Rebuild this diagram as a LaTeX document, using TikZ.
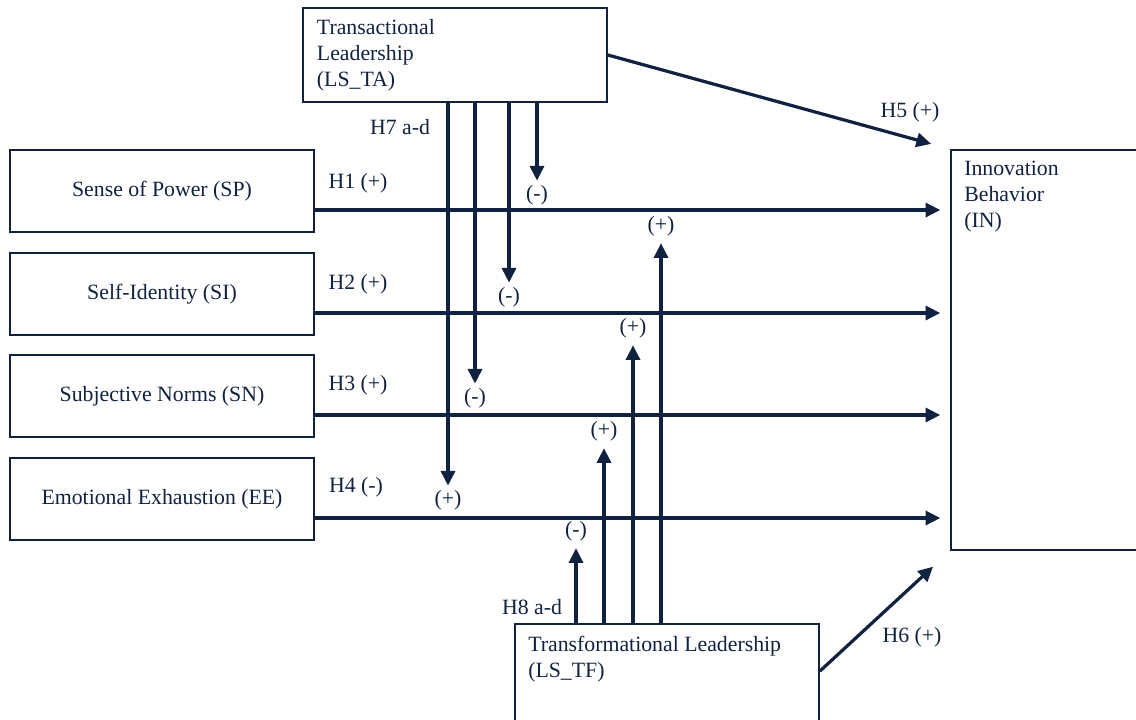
\documentclass[tikz,border=0pt]{standalone}
\usepackage{fontspec}
\setmainfont{Liberation Serif}
\usetikzlibrary{arrows.meta,positioning,calc}
\definecolor{navy}{HTML}{10223F}

\begin{document}
\begin{tikzpicture}[
  x=0.025cm,y=-0.025cm,
  font=\fontsize{15.5pt}{18.5pt}\selectfont,text=navy,
  box/.style={draw=navy,line width=1.2pt,align=center,
              minimum width=7.6cm,minimum height=2.05cm,inner sep=0pt},
  bigbox/.style={draw=navy,line width=1.2pt,inner sep=0pt},
  txt/.style={align=left,inner sep=0pt,anchor=north west},
  sign/.style={inner sep=1pt},
  arr/.style={-{Triangle[length=10.5pt,width=10pt]},line width=2.3pt,draw=navy}
]
\clip (0,0) rectangle (1136,719);

% Leadership styles
\node[bigbox,minimum width=7.6cm,minimum height=2.35cm,text width=6.9cm,align=left] (ta) at (455,55)
  {Transactional\\Leadership\\(LS\_TA)};
\node[bigbox,minimum width=7.6cm,minimum height=3cm] (tf) at (667,684) {};
\node[txt] (tftext) at (528,636) {Transformational Leadership\\(LS\_TF)};

% Predictors
\node[box] (sp) at (162,191) {Sense of Power (SP)};
\node[box] (si) at (162,294) {Self-Identity (SI)};
\node[box] (sn) at (162,396) {Subjective Norms (SN)};
\node[box] (ee) at (162,499) {Emotional Exhaustion (EE)};

% Outcome
\node[bigbox,minimum width=4.75cm,minimum height=10cm] (innov) at (1046,350) {};
\node[txt] (innovtext) at (964,161) {Innovation\\Behavior\\(IN)};

% Hypotheses
\node (h1) at (358,183) {H1 (+)};
\node (h2) at (358,284) {H2 (+)};
\node (h3) at (358,385) {H3 (+)};
\node (h4) at (356,487) {H4 (-)};
\node (h5) at (910,112) {H5 (+)};
\node (h6) at (912,637) {H6 (+)};
\node (h7) at (400,127) {H7 a-d};
\node (h8) at (532,607) {H8 a-d};

% Moderation signs
\node[sign] (ta-sp) at (537,195) {(-)};
\node[sign] (ta-si) at (509,297) {(-)};
\node[sign] (ta-sn) at (475,398) {(-)};
\node[sign] (ta-ee) at (448,500) {(+)};
\node[sign] (tf-sp) at (661,226) {(+)};
\node[sign] (tf-si) at (633,328) {(+)};
\node[sign] (tf-sn) at (604,431) {(+)};
\node[sign] (tf-ee) at (576,531) {(-)};

\foreach \n in {sp,si,sn,ee}{
  \coordinate (\n-o) at ($(\n.east)+(0,19)$);
  \draw[arr,shorten >=7pt] (\n-o) -- (\n-o -| innov.west);
}
\foreach \n in {sp,si,sn,ee}{\draw[arr,shorten >=2pt] (ta.south -| ta-\n.north) -- (ta-\n.north);}
\foreach \n in {sp,si,sn,ee}{\draw[arr,shorten >=4pt] (tf.north -| tf-\n.south) -- (tf-\n.south);}
\draw[arr,shorten >=14pt] (ta.east) -- (innov.north west);
\coordinate (tf-o) at ($(tf.north east)+(0,48)$);
\draw[arr,shorten >=16.5pt] (tf-o) -- (innov.south west);
\end{tikzpicture}
\end{document}
